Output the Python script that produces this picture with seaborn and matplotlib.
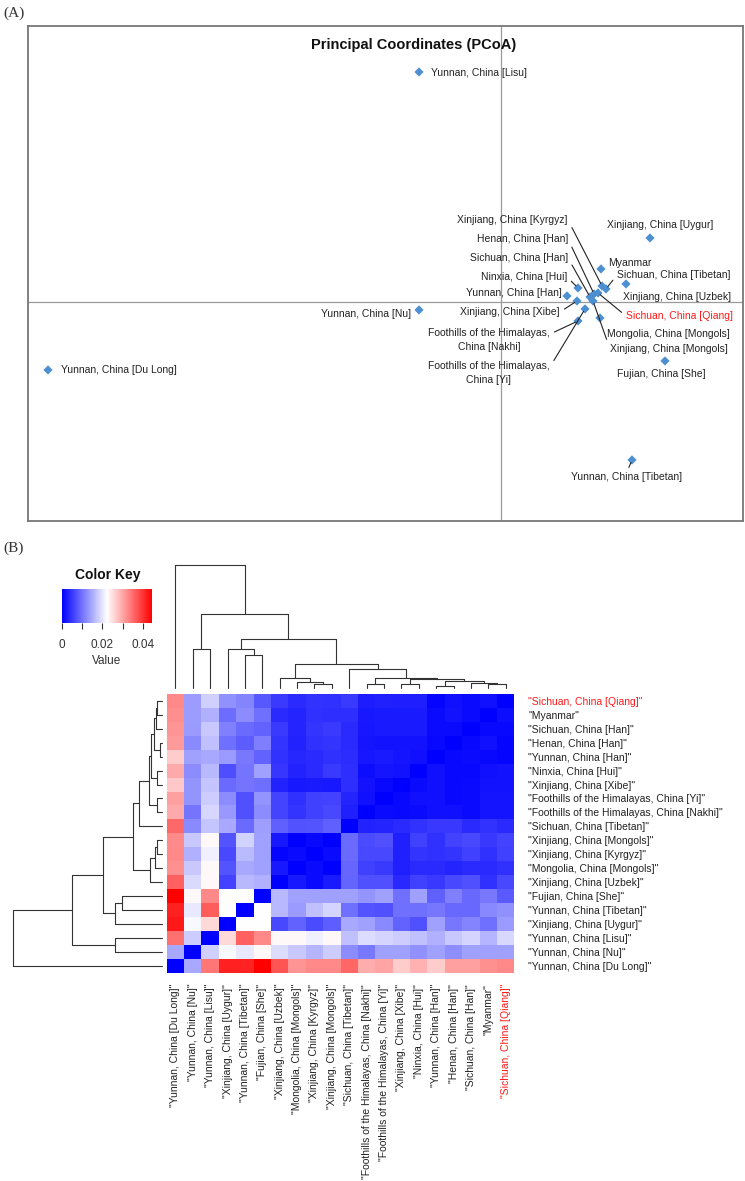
import numpy as np
import pandas as pd
import matplotlib
matplotlib.use("Agg")
import matplotlib.pyplot as plt
from matplotlib.colors import LinearSegmentedColormap
import seaborn as sns

sns.set_style("white")
plt.rcParams["font.family"] = ["Liberation Sans", "DejaVu Sans"]

# ---------------- data: (A) PCoA ----------------
pcoa_names = ["Yunnan, China [Lisu]", "Xinjiang, China [Uygur]", "Yunnan, China [Nu]",
              "Yunnan, China [Du Long]", "Yunnan, China [Tibetan]", "Fujian, China [She]",
              "Myanmar", "Xinjiang, China [Uzbek]", "Sichuan, China [Tibetan]",
              "Xinjiang, China [Kyrgyz]", "Sichuan, China [Qiang]", "Henan, China [Han]",
              "Sichuan, China [Han]", "Xinjiang, China [Mongols]", "Ninxia, China [Hui]",
              "Yunnan, China [Han]", "Xinjiang, China [Xibe]",
              "Foothills of the Himalayas,\nChina [Yi]",
              "Foothills of the Himalayas,\nChina [Nakhi]", "Mongolia, China [Mongols]"]
pc1 = [-0.0082, 0.0149, -0.0082, -0.0453, 0.0131, 0.0164, 0.0100, 0.0125, 0.0105, 0.0101,
       0.0097, 0.0093, 0.0089, 0.0092, 0.0077, 0.0066, 0.0076, 0.0084, 0.0077, 0.0099]
pc2 = [0.0230, 0.0064, -0.0008, -0.0068, -0.0158, -0.0059, 0.0033, 0.0018, 0.0013, 0.0016,
       0.0009, 0.0008, 0.0005, 0.0001, 0.0014, 0.0006, 0.0001, -0.0007, -0.0019, -0.0016]

# label placement (x, y, ha, leader line anchor or None)
label_layout = [(-0.0070, 0.0229, "left", None), (0.0159, 0.0077, "center", None),
                (-0.0090, -0.0012, "right", None), (-0.0440, -0.0068, "left", None),
                (0.0126, -0.0175, "center", (0.5, 1.0)), (0.0160, -0.0072, "center", None),
                (0.0107, 0.0039, "left", None), (0.0122, 0.0005, "left", None),
                (0.0116, 0.0027, "left", (0.0, 0.5)), (0.0067, 0.0082, "right", (1.0, 0.5)),
                (0.0125, -0.0014, "left", (0.0, 0.5)), (0.0067, 0.0063, "right", (1.0, 0.5)),
                (0.0067, 0.0044, "right", (1.0, 0.5)), (0.0109, -0.0047, "left", (0.0, 0.5)),
                (0.0066, 0.0025, "right", (1.0, 0.5)), (0.0061, 0.0009, "right", None),
                (0.0059, -0.0010, "right", (1.0, 0.5)), (-0.0012, -0.0071, "center", (1.0, 0.75)),
                (-0.0012, -0.0038, "center", (1.0, 0.75)), (0.0106, -0.0032, "left", None)]

# ---------------- data: (B) heatmap ----------------
row_labels = ["Sichuan, China [Qiang]", "Myanmar", "Sichuan, China [Han]", "Henan, China [Han]",
              "Yunnan, China [Han]", "Ninxia, China [Hui]", "Xinjiang, China [Xibe]",
              "Foothills of the Himalayas, China [Yi]", "Foothills of the Himalayas, China [Nakhi]",
              "Sichuan, China [Tibetan]", "Xinjiang, China [Mongols]", "Xinjiang, China [Kyrgyz]",
              "Mongolia, China [Mongols]", "Xinjiang, China [Uzbek]", "Fujian, China [She]",
              "Yunnan, China [Tibetan]", "Xinjiang, China [Uygur]", "Yunnan, China [Lisu]",
              "Yunnan, China [Nu]", "Yunnan, China [Du Long]"]
col_labels = row_labels[::-1]

dist_rows = [
    [0.0326, 0.0136, 0.0181, 0.0126, 0.0116, 0.0077, 0.0052, 0.0038, 0.0045, 0.0042, 0.0051, 0.0025, 0.0028, 0.0027, 0.0027, 0.0004, 0.0014, 0.0009, 0.0014, 0.0000],
    [0.0321, 0.0136, 0.0154, 0.0094, 0.0122, 0.0099, 0.0038, 0.0032, 0.0042, 0.0040, 0.0040, 0.0022, 0.0023, 0.0023, 0.0023, 0.0009, 0.0016, 0.0009, 0.0000, 0.0011],
    [0.0315, 0.0134, 0.0175, 0.0112, 0.0093, 0.0086, 0.0052, 0.0032, 0.0046, 0.0051, 0.0038, 0.0020, 0.0023, 0.0023, 0.0023, 0.0009, 0.0009, 0.0000, 0.0007, 0.0008],
    [0.0311, 0.0120, 0.0168, 0.0098, 0.0080, 0.0111, 0.0046, 0.0030, 0.0042, 0.0046, 0.0038, 0.0018, 0.0016, 0.0017, 0.0016, 0.0007, 0.0000, 0.0007, 0.0014, 0.0005],
    [0.0267, 0.0140, 0.0147, 0.0134, 0.0105, 0.0086, 0.0045, 0.0034, 0.0038, 0.0043, 0.0039, 0.0020, 0.0023, 0.0018, 0.0014, 0.0000, 0.0007, 0.0009, 0.0007, 0.0004],
    [0.0297, 0.0122, 0.0161, 0.0068, 0.0102, 0.0140, 0.0047, 0.0031, 0.0038, 0.0051, 0.0040, 0.0012, 0.0018, 0.0016, 0.0000, 0.0014, 0.0007, 0.0007, 0.0014, 0.0016],
    [0.0271, 0.0129, 0.0171, 0.0093, 0.0101, 0.0097, 0.0031, 0.0021, 0.0023, 0.0021, 0.0041, 0.0016, 0.0007, 0.0000, 0.0009, 0.0014, 0.0007, 0.0009, 0.0016, 0.0016],
    [0.0305, 0.0129, 0.0178, 0.0122, 0.0070, 0.0130, 0.0060, 0.0042, 0.0056, 0.0059, 0.0032, 0.0014, 0.0000, 0.0007, 0.0014, 0.0014, 0.0007, 0.0009, 0.0018, 0.0018],
    [0.0297, 0.0102, 0.0187, 0.0133, 0.0070, 0.0122, 0.0060, 0.0046, 0.0056, 0.0063, 0.0028, 0.0000, 0.0009, 0.0007, 0.0010, 0.0014, 0.0014, 0.0009, 0.0018, 0.0018],
    [0.0354, 0.0120, 0.0171, 0.0147, 0.0093, 0.0138, 0.0084, 0.0072, 0.0074, 0.0084, 0.0000, 0.0030, 0.0032, 0.0037, 0.0045, 0.0049, 0.0049, 0.0037, 0.0045, 0.0037],
    [0.0325, 0.0175, 0.0229, 0.0074, 0.0183, 0.0140, 0.0021, 0.0000, 0.0007, 0.0000, 0.0093, 0.0065, 0.0070, 0.0028, 0.0056, 0.0042, 0.0059, 0.0063, 0.0049, 0.0059],
    [0.0326, 0.0154, 0.0209, 0.0063, 0.0163, 0.0140, 0.0005, 0.0009, 0.0000, 0.0009, 0.0093, 0.0063, 0.0063, 0.0028, 0.0046, 0.0042, 0.0046, 0.0056, 0.0042, 0.0056],
    [0.0319, 0.0175, 0.0229, 0.0074, 0.0147, 0.0140, 0.0021, 0.0000, 0.0009, 0.0000, 0.0089, 0.0056, 0.0052, 0.0028, 0.0037, 0.0037, 0.0032, 0.0037, 0.0037, 0.0042],
    [0.0361, 0.0190, 0.0229, 0.0059, 0.0161, 0.0154, 0.0000, 0.0021, 0.0009, 0.0023, 0.0087, 0.0070, 0.0070, 0.0035, 0.0056, 0.0049, 0.0063, 0.0070, 0.0042, 0.0063],
    [0.0445, 0.0229, 0.0326, 0.0223, 0.0223, 0.0000, 0.0161, 0.0140, 0.0140, 0.0140, 0.0140, 0.0130, 0.0140, 0.0098, 0.0140, 0.0084, 0.0112, 0.0091, 0.0106, 0.0079],
    [0.0417, 0.0203, 0.0365, 0.0223, 0.0000, 0.0223, 0.0161, 0.0134, 0.0168, 0.0185, 0.0099, 0.0074, 0.0070, 0.0098, 0.0098, 0.0104, 0.0091, 0.0091, 0.0119, 0.0126],
    [0.0424, 0.0216, 0.0257, 0.0000, 0.0223, 0.0223, 0.0063, 0.0086, 0.0065, 0.0082, 0.0147, 0.0140, 0.0120, 0.0086, 0.0070, 0.0140, 0.0104, 0.0116, 0.0098, 0.0134],
    [0.0347, 0.0178, 0.0000, 0.0257, 0.0361, 0.0326, 0.0229, 0.0229, 0.0209, 0.0229, 0.0168, 0.0192, 0.0185, 0.0178, 0.0168, 0.0154, 0.0175, 0.0185, 0.0157, 0.0189],
    [0.0147, 0.0000, 0.0182, 0.0216, 0.0203, 0.0229, 0.0192, 0.0175, 0.0157, 0.0178, 0.0122, 0.0106, 0.0140, 0.0140, 0.0126, 0.0140, 0.0125, 0.0140, 0.0140, 0.0140],
    [0.0000, 0.0147, 0.0341, 0.0417, 0.0415, 0.0445, 0.0371, 0.0315, 0.0326, 0.0326, 0.0356, 0.0294, 0.0301, 0.0267, 0.0291, 0.0267, 0.0305, 0.0305, 0.0319, 0.0326],
]

# tree: leaves 0..19 in column order, merge k gets id 20+k  (a, b, height)
tree_merges = [
    (8, 9, 0.033), (7, 20, 0.049), (6, 21, 0.081), (11, 12, 0.033), (13, 14, 0.033),
    (15, 16, 0.016), (18, 19, 0.033), (17, 26, 0.041), (25, 27, 0.057), (24, 28, 0.073),
    (23, 29, 0.085), (10, 30, 0.154), (22, 31, 0.195), (4, 5, 0.268), (3, 33, 0.317),
    (34, 32, 0.398), (1, 2, 0.317), (36, 35, 0.602), (0, 37, 1.0),
]

TXT = "#222222"
RED = "#FF1A1A"

fig = plt.figure(figsize=(7.45, 11.81), dpi=100)

# ---------------- (A) ----------------
ax_a = fig.add_axes([0.0376, 0.5589, 0.9597, 0.4191])
ax_a.axhline(0, color="#9a9a9a", lw=0.9, zorder=0)
ax_a.axvline(0, color="#9a9a9a", lw=0.9, zorder=0)
sns.scatterplot(x=pc1, y=pc2, marker="D", s=22, color="#4d8fd1", edgecolor="none",
                legend=False, ax=ax_a, zorder=3)
for name, x, y, (tx, ty, ha, rel) in zip(pcoa_names, pc1, pc2, label_layout):
    col = RED if "Qiang" in name else TXT
    kw = dict(ha=ha, va="center", fontsize=7.5, color=col, linespacing=1.4,
              multialignment="center")
    if rel is None:
        ax_a.text(tx, ty, name, **kw)
    else:
        ax_a.annotate(name, xy=(x, y), xytext=(tx, ty),
                      arrowprops=dict(arrowstyle="-", color="#222222", lw=0.8,
                                      shrinkA=1, shrinkB=2, relpos=rel), **kw)
ax_a.set_xlim(-0.0473, 0.0242)
ax_a.set_ylim(-0.0219, 0.0276)
ax_a.set_xticks([])
ax_a.set_yticks([])
for sp in ax_a.spines.values():
    sp.set_color("#777777")
    sp.set_linewidth(1.3)
ax_a.text(0.540, 0.962, "Principal Coordinates (PCoA)", transform=ax_a.transAxes,
          ha="center", va="center", fontsize=10.5, fontweight="bold", color="#111111")

fig.text(0.004, 0.989, "(A)", fontsize=11, family=["Liberation Serif", "DejaVu Serif"],
         color="#333333", va="center")
fig.text(0.004, 0.5355, "(B)", fontsize=11, family=["Liberation Serif", "DejaVu Serif"],
         color="#333333", va="center")

# ---------------- (B) heatmap ----------------
bluered = LinearSegmentedColormap.from_list("bluered", ["#0000FF", "#FFFFFF", "#FF0000"])
dist_df = pd.DataFrame(dist_rows, index=['"%s"' % r for r in row_labels],
                       columns=['"%s"' % c for c in col_labels])

ax_h = fig.add_axes([0.2238, 0.1764, 0.4666, 0.2360])
ax_k = fig.add_axes([0.0832, 0.4725, 0.1208, 0.0288])
sns.heatmap(dist_df, cmap=bluered, ax=ax_h, cbar_ax=ax_k,
            cbar_kws={"orientation": "horizontal"}, xticklabels=True, yticklabels=True)
ax_h.yaxis.tick_right()
ax_h.tick_params(axis="y", length=0, pad=10, labelsize=7.5, rotation=0)
ax_h.tick_params(axis="x", length=0, pad=8, labelsize=7.5, rotation=90)
for t in ax_h.get_yticklabels():
    t.set_ha("left")
    t.set_color(RED if "Qiang" in t.get_text() else TXT)
for t in ax_h.get_xticklabels():
    t.set_color(RED if "Qiang" in t.get_text() else TXT)

# color key
cbar = ax_h.collections[0].colorbar
cbar.outline.set_visible(False)
ax_k.set_xticks([0, 0.01, 0.02, 0.03, 0.04])
ax_k.set_xticklabels(["0", "", "0.02", "", "0.04"])
ax_k.tick_params(axis="x", length=4.5, width=0.8, pad=7, labelsize=8.5, colors="#333333")
ax_k.set_xlabel("Value", fontsize=8.5, color="#333333", labelpad=3)
fig.text(0.145, 1 - 575 / 1181, "Color Key", ha="center", va="center", fontsize=10,
         fontweight="bold", color="#111111")


def draw_tree(ax, merges, n, top):
    pos = {i: i + 0.5 for i in range(n)}
    hgt = {i: 0.0 for i in range(n)}
    for k, (a, b, h) in enumerate(merges):
        xa, xb = pos[a], pos[b]
        for xs, ys in [([xa, xa], [hgt[a], h]), ([xb, xb], [hgt[b], h]), ([xa, xb], [h, h])]:
            if top:
                ax.plot(xs, ys, color="#333333", lw=0.8, clip_on=False)
            else:
                ax.plot(ys, xs, color="#333333", lw=0.8, clip_on=False)
        pos[n + k] = (xa + xb) / 2
        hgt[n + k] = h
    ax.axis("off")


# column dendrogram (top)
ax_t = fig.add_axes([0.2238, 0.41745, 0.4666, 0.10415])
draw_tree(ax_t, tree_merges, len(col_labels), True)
ax_t.set_xlim(0, len(col_labels))
ax_t.set_ylim(0, 1.0)

# row dendrogram (left), leaf j (column order) sits at row 19-j
ax_r = fig.add_axes([0.01745, 0.1764, 0.2, 0.2360])
draw_tree(ax_r, tree_merges, len(row_labels), False)
ax_r.set_ylim(0, len(row_labels))
ax_r.set_xlim(1.0, 0)

fig.savefig("out.png", dpi=100)
